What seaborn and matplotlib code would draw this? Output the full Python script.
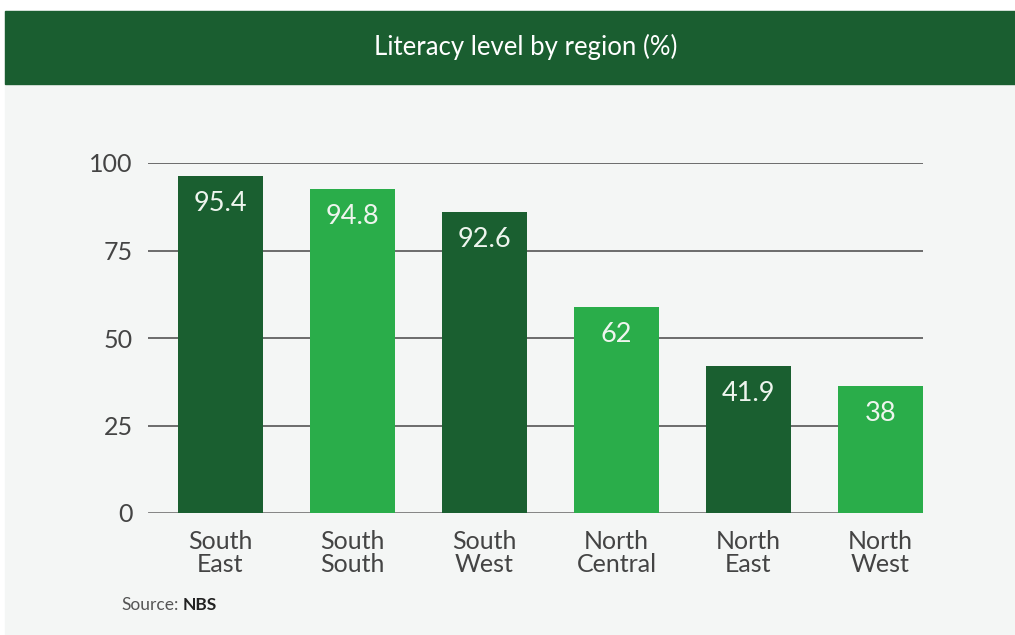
import seaborn as sns
import matplotlib.pyplot as plt
from matplotlib.patches import Rectangle

# chart data
regions = ["South\nEast", "South\nSouth", "South\nWest", "North\nCentral", "North\nEast", "North\nWest"]
bar_heights = [96.3, 92.6, 86.0, 58.9, 42.0, 36.3]   # bar tops as drawn
bar_labels = ["95.4", "94.8", "92.6", "62", "41.9", "38"]  # printed values
bar_colors = ["#1a5f30", "#2aad4a", "#1a5f30", "#2aad4a", "#1a5f30", "#2aad4a"]
y_ticks = [0, 25, 50, 75, 100]

sns.set_style("white")
plt.rcParams["font.family"] = ["Lato", "DejaVu Sans"]

fig = plt.figure(figsize=(10.15, 6.35), dpi=100, facecolor="white")
# panel background and header band
fig.patches.append(Rectangle((5 / 1015, 0), 1, 624 / 635, transform=fig.transFigure,
                             color="#f4f6f5", zorder=-2))
fig.patches.append(Rectangle((5 / 1015, (635 - 84) / 635), 1, 73 / 635, transform=fig.transFigure,
                             color="#1a5e30", zorder=-1))
fig.text(526 / 1015, (635 - 47) / 635, "Literacy level by region (%)", color="white",
         fontsize=18.5, ha="center", va="center")

ax = fig.add_axes([148 / 1015, 122 / 635, 775 / 1015, 350 / 635])
ax.set_facecolor("none")

sns.barplot(x=regions, y=bar_heights, hue=regions, palette=bar_colors, width=0.644,
            legend=False, saturation=1, linewidth=0, ax=ax, zorder=3)

for i, (h, lab) in enumerate(zip(bar_heights, bar_labels)):
    ax.annotate(lab, (i, h), xytext=(0, -20), textcoords="offset points", ha="center",
                va="center", color="#eef5ee", fontsize=19.5, zorder=4)

for t in y_ticks:
    if t == 0:
        ax.axhline(t, color="#7a7a7a", lw=2, zorder=1)
    else:
        ax.axhline(t, color="#555555", lw=1.2, zorder=1)

ax.set_xlim(-0.549, 5.322)
ax.set_ylim(0, 100)
ax.set_yticks(y_ticks)
ax.set_yticklabels([str(t) for t in y_ticks])
ax.set_xlabel("")
ax.set_ylabel("")
ax.tick_params(axis="both", length=0, labelsize=18, labelcolor="#444444")
ax.tick_params(axis="y", pad=11)
ax.tick_params(axis="x", pad=12)
for lab in ax.get_xticklabels():
    lab.set_linespacing(1.0)
sns.despine(ax=ax, left=True, bottom=True)

fig.text(121 / 1015, (635 - 605) / 635, "Source:", color="#555555", fontsize=12.5, va="center")
fig.text(183 / 1015, (635 - 605) / 635, "NBS", color="#222222", fontsize=12.5,
         fontweight="bold", va="center")

fig.savefig("out.png", dpi=100, facecolor=fig.get_facecolor())
